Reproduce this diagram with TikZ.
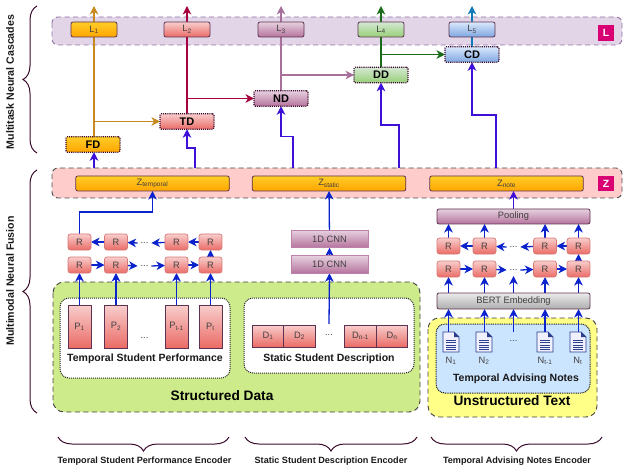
\documentclass[tikz,border=0pt]{standalone}
\usepackage{fontspec}
\setmainfont{Liberation Sans}
\usetikzlibrary{positioning}
\usetikzlibrary{calc,arrows.meta,decorations.pathreplacing}

\definecolor{edgeDark}{HTML}{5E3250}
\definecolor{bluelink}{HTML}{0A22CC}
\definecolor{purplelink}{HTML}{3D10D8}
\definecolor{bracedark}{HTML}{3C0A2C}
\definecolor{amberlink}{HTML}{C68A1E}
\definecolor{crimsonlink}{HTML}{A8003F}
\definecolor{mauvelink}{HTML}{A6709A}
\definecolor{greenlink}{HTML}{1A6B1A}
\definecolor{skylink}{HTML}{0E7AB8}
\definecolor{noteblue}{HTML}{2B3F8C}

\pgfdeclarelayer{bands}
\pgfdeclarelayer{links}
\pgfsetlayers{bands,links,main}

\tikzset{
	x=1pt,y=-1pt,
	every node/.style={font=\fontsize{9.3}{11}\selectfont,text=black!75,inner sep=0pt,outer sep=0pt},
	box/.style={draw=edgeDark,line width=0.8pt,rounded corners=2pt},
	redfill/.style={top color={rgb,255:red,248;green,206;blue,204},bottom color={rgb,255:red,234;green,107;blue,102}},
	pinkfill/.style={top color={rgb,255:red,230;green,208;blue,222},bottom color={rgb,255:red,181;green,115;blue,157}},
	greenfill/.style={top color={rgb,255:red,213;green,232;blue,212},bottom color={rgb,255:red,151;green,208;blue,119}},
	bluefill/.style={top color={rgb,255:red,218;green,232;blue,252},bottom color={rgb,255:red,126;green,166;blue,224}},
	amberfill/.style={top color={rgb,255:red,255;green,205;blue,40},bottom color={rgb,255:red,255;green,165;blue,0}},
	rcell/.style={draw={rgb,255:red,214;green,120;blue,120},line width=0.7pt,rounded corners=2.5pt,redfill,minimum width=23pt,minimum height=16pt},
	pcell/.style={draw=edgeDark,line width=0.9pt,redfill,minimum width=23pt,minimum height=43pt},
	dcell/.style={draw=edgeDark,line width=0.8pt,redfill,minimum width=31.5pt,minimum height=22pt},
	cnncell/.style={draw={rgb,255:red,190;green,130;blue,170},line width=0.7pt,pinkfill,minimum width=77pt,minimum height=17.5pt},
	taskbox/.style={draw=bracedark,densely dotted,line width=1.1pt,rounded corners=1.5pt,minimum width=54pt,minimum height=15.5pt,font=\fontsize{11}{13}\selectfont\bfseries,text=black},
	lossbox/.style={box,minimum width=46pt,minimum height=15pt},
	zbox/.style={box,amberfill,minimum width=153.5pt,minimum height=15pt},
	tagbox/.style={fill={rgb,255:red,216;green,0;blue,115},minimum size=15.5pt,font=\fontsize{10.5}{12}\selectfont\bfseries,text=white},
	band/.style={line width=0.9pt,dash pattern=on 5pt off 3.5pt,rounded corners=6pt},
	region/.style={line width=0.9pt,dash pattern=on 5pt off 3.5pt,draw=black!75,rounded corners=11pt},
	innerregion/.style={line width=1pt,densely dotted,draw=black!85,rounded corners=9pt},
	grouplabel/.style={font=\fontsize{10.5}{12}\selectfont\bfseries,text=black!90},
	encoderlabel/.style={font=\fontsize{9.1}{11}\selectfont\bfseries,text=black!90},
	sidelabel/.style={rotate=90,font=\fontsize{10.6}{12}\selectfont\bfseries,text=black!90},
	titlelabel/.style={font=\fontsize{13.7}{15}\selectfont\bfseries,text=black},
	bigbrace/.style={draw=bracedark,line width=1pt,decorate,decoration={brace,amplitude=14pt}},
	link/.style={-{Stealth[length=8.5pt,width=8.5pt,inset=2.5pt]},line width=1.3pt},
	uplink/.style={link,color=purplelink},
	downlink/.style={link,color=bluelink},
	noteicon/.pic={
		\fill[blue!6!white] (-8,-10) -- (3,-10) -- (8,-5) -- (8,10) -- (-8,10) -- cycle;
		\fill[noteblue] (3,-10) -- (8,-5) -- (3,-5) -- cycle;
		\draw[noteblue,line width=0.9pt] (-8,-10) -- (3,-10) -- (8,-5) -- (8,10) -- (-8,10) -- cycle;
		\foreach \yy in {-2,0.5,3,5.5,7.5}
			\draw[noteblue,line width=0.8pt] (-5,\yy) -- (5,\yy);
	}
}

\begin{document}
\begin{tikzpicture}
	\useasboundingbox (0,0) rectangle (623,470);

	%Bands and regions
	\begin{pgfonlayer}{bands}
		\draw[band,draw={rgb,255:red,150;green,115;blue,166},fill={rgb,255:red,225;green,213;blue,231}] (52,17) rectangle (622,45);
		\draw[band,draw=black!70,fill={rgb,255:red,255;green,204;blue,204}] (52,168) rectangle (622,198);
		\draw[region,fill={rgb,255:red,205;green,235;blue,139}] (53,282) rectangle (420,412);
		\draw[innerregion,fill=white] (60,298) rectangle (230,378);
		\draw[innerregion,fill=white] (244,298) rectangle (414,373);
		\draw[region,fill={rgb,255:red,255;green,255;blue,136}] (428,318) rectangle (597,417);
		\draw[innerregion,dash pattern=on 1pt off 0.8pt,fill={rgb,255:red,204;green,229;blue,255}] (436,324) rectangle (590,393);
	\end{pgfonlayer}

	%Band tags
	\node[tagbox] (TagL) at (606,33) {L};
	\node[tagbox] (TagZ) at (606,183.5) {Z};

	%Loss outputs
	\node[lossbox,amberfill] (L1) at (94,29.5) {L\textsubscript{1}};
	\node[lossbox,redfill] (L2) at (187,29.5) {L\textsubscript{2}};
	\node[lossbox,pinkfill] (L3) at (281,29.5) {L\textsubscript{3}};
	\node[lossbox,greenfill] (L4) at (381,29.5) {L\textsubscript{4}};
	\node[lossbox,bluefill] (L5) at (472,29.5) {L\textsubscript{5}};

	\coordinate (OutA) at (94,6);
	\coordinate (OutB) at (187,6);
	\coordinate (OutC) at (281,6);
	\coordinate (OutD) at (381,6);
	\coordinate (OutE) at (472,6);

	%Cascade tasks
	\node[taskbox,amberfill] (FD) at (93,144.5) {FD};
	\node[taskbox,redfill] (TD) at (187,121.5) {TD};
	\node[taskbox,pinkfill] (ND) at (281,98.5) {ND};
	\node[taskbox,greenfill] (DD) at (381,75) {DD};
	\node[taskbox,bluefill] (CD) at (472,54.5) {CD};

	%Fusion vectors
	\node[zbox] (ZTemporal) at (152.5,183.5) {Z\textsubscript{temporal}};
	\node[zbox] (ZStatic) at (329,183.5) {Z\textsubscript{static}};
	\node[zbox] (ZNote) at (506.5,183.5) {Z\textsubscript{note}};

	%Temporal performance encoder
	\foreach \i/\xx/\lab in {1/79.5/1,2/116/2,3/176.5/{t-1},4/210.5/t}{
		\node[rcell] (RpUp\i) at (\xx,242) {R};
		\node[rcell] (RpLow\i) at (\xx,265) {R};
		\node[pcell] (P\i) at (\xx,326.5) {P\textsubscript{\lab}};
	}
	\node (DotsPUp) at (144.5,243) {...};
	\node (DotsPLow) at (144.5,266) {...};
	\node (DotsP) at (144.5,338) {...};
	\node[grouplabel] (LabP) at (145,359) {Temporal Student Performance};

	%Static description encoder
	\node[cnncell] (CnnUp) at (329.5,239) {1D CNN};
	\node[cnncell] (CnnLow) at (329.5,264.5) {1D CNN};
	\node[dcell] (D1) at (268,336) {D\textsubscript{1}};
	\node[dcell,right=0pt of D1] (D2) {D\textsubscript{2}};
	\node[dcell] (D3) at (360.5,336) {D\textsubscript{n-1}};
	\node[dcell,right=0pt of D3] (D4) {D\textsubscript{n}};
	\node (DotsD) at (329,335) {...};
	\coordinate (DotsDTop) at (329,324);
	\node[grouplabel] (LabD) at (329,359) {Static Student Description};

	%Advising notes encoder
	\node[box,pinkfill,minimum width=153pt,minimum height=15pt] (Pooling) at (513.5,216.5) {Pooling};
	\node[box,top color=black!8,bottom color=black!32,minimum width=153pt,minimum height=16pt] (Bert) at (513.5,301) {BERT Embedding};
	\foreach \i/\xx in {1/448.5,2/484.5,3/545,4/578.5}{
		\node[rcell] (RnUp\i) at (\xx,246) {R};
		\node[rcell] (RnLow\i) at (\xx,269) {R};
	}
	\foreach \i/\xx/\lab in {1/451/1,2/484/2,3/545/{t-1},4/578/t}{
		\node[minimum width=16pt,minimum height=20pt] (N\i) at (\xx,342) {};
		\pic at (N\i) {noteicon};
		\node[below=5pt of N\i] (NLab\i) {N\textsubscript{\lab}};
	}
	\node (DotsNUp) at (513.5,247) {...};
	\node (DotsNLow) at (513.5,270) {...};
	\node (DotsN) at (513.5,341) {...};
	\coordinate (DotsNTop) at (513.5,332);
	\coordinate (DotsNBase) at (513.5,276);
	\node[grouplabel] (LabN) at (516,379) {Temporal Advising Notes};

	%Region titles
	\node[titlelabel] (TitleS) at (222,396) {Structured Data};
	\node[titlelabel] (TitleU) at (512,401) {Unstructured Text};

	%Side and bottom labels
	\node[sidelabel] (SideT) at (10,82) {Multitask Neural Cascades};
	\node[sidelabel] (SideF) at (10,281) {Multimodal Neural Fusion};
	\node[encoderlabel] (EncP) at (144.5,461) {Temporal Student Performance Encoder};
	\node[encoderlabel] (EncD) at (331,461) {Static Student Description Encoder};
	\node[encoderlabel] (EncN) at (517,461) {Temporal Advising Notes Encoder};

	%Braces
	\coordinate (BrA1) at (37,153);
	\coordinate (BrA2) at (37,6);
	\coordinate (BrB1) at (37,413);
	\coordinate (BrB2) at (37,170);
	\draw[bigbrace] (BrA1) -- (BrA2);
	\draw[bigbrace] (BrB1) -- (BrB2);
	\foreach \xa/\xb in {229/58,417/245,602/431}
		\draw[bigbrace] (\xa,437) -- (\xb,437);

	\begin{pgfonlayer}{links}
		%Task to output
		\draw[link,color=amberlink] (FD.north -| OutA) -- (OutA);
		\draw[link,color=crimsonlink] (TD) -- (OutB);
		\draw[link,color=mauvelink] (ND) -- (OutC);
		\draw[link,color=greenlink] (DD) -- (OutD);
		\draw[link,color=skylink] (CD) -- (OutE);

		%Cascade
		\draw[link,color=amberlink] (L1 |- TD) -- (TD);
		\draw[link,color=crimsonlink] (L2 |- ND) -- (ND);
		\draw[link,color=mauvelink] (L3 |- DD) -- (DD);
		\draw[link,color=greenlink] (L4 |- CD) -- (CD);

		%Fusion to tasks
		\draw[uplink] ($(FD.south)+(1,16)$) -- ($(FD.south)+(1,0)$);
		\draw[uplink] (195,168) |- (187,148) -- (TD.south);
		\draw[uplink] (293,168) |- (281,136.5) -- (ND.south);
		\draw[uplink] (399,168) |- (381,125) -- (DD.south);
		\draw[uplink] (496,168) |- (472,115) -- (CD.south);

		%Temporal performance encoder
		\draw[downlink] (RpUp1.north) |- (ZTemporal.south |- 0,212) -- (ZTemporal.south);
		\foreach \i in {1,2,3,4}
			\draw[downlink] (P\i.north) -- (RpLow\i.south);
		\draw[downlink] (RpLow4.north) -- (RpUp4.south);
		\draw[downlink] (RpLow1) -- (RpLow2);
		\draw[downlink] (RpLow2) -- ($(DotsPLow.west)+(-3,0)$);
		\draw[downlink] ($(DotsPLow.east)+(3,0)$) -- (RpLow3);
		\draw[downlink] (RpLow3) -- (RpLow4);
		\draw[downlink] (RpUp4) -- (RpUp3);
		\draw[downlink] (RpUp3) -- ($(DotsPUp.east)+(3,0)$);
		\draw[downlink] ($(DotsPUp.west)+(-3,0)$) -- (RpUp2);
		\draw[downlink] (RpUp2) -- (RpUp1);

		%Static description encoder
		\draw[downlink] (DotsDTop) -- (CnnLow.south);
		\draw[downlink] (CnnLow) -- (CnnUp);
		\draw[downlink] (CnnUp) -- (ZStatic);

		%Advising notes encoder
		\draw[uplink] (Pooling.north) -- (Pooling.north |- ZNote.south);
		\foreach \i in {1,2,3,4}{
			\draw[downlink] (RnUp\i.north) -- (RnUp\i.north |- Pooling.south);
			\draw[downlink] (RnLow\i.south |- Bert.north) -- (RnLow\i.south);
			\draw[downlink] (RnLow\i.south |- N\i.north) -- (RnLow\i.south |- Bert.south);
		}
		\draw[downlink] (RnLow4.north) -- (RnUp4.south);
		\draw[downlink] (Bert.north) -- (DotsNBase);
		\draw[downlink] (DotsNTop) -- (Bert.south);
		\draw[downlink] (RnLow1) -- (RnLow2);
		\draw[downlink] (RnLow2) -- ($(DotsNLow.west)+(-3,0)$);
		\draw[downlink] ($(DotsNLow.east)+(3,0)$) -- (RnLow3);
		\draw[downlink] (RnLow3) -- (RnLow4);
		\draw[downlink] (RnUp4) -- (RnUp3);
		\draw[downlink] (RnUp3) -- ($(DotsNUp.east)+(3,0)$);
		\draw[downlink] ($(DotsNUp.west)+(-3,0)$) -- (RnUp2);
		\draw[downlink] (RnUp2) -- (RnUp1);
	\end{pgfonlayer}
\end{tikzpicture}
\end{document}
